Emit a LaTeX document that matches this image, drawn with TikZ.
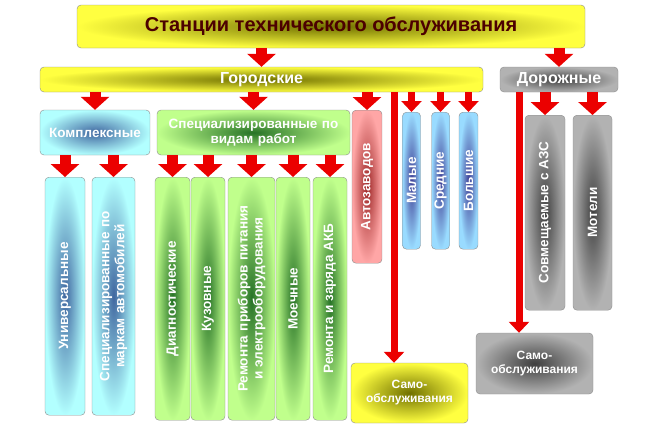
\documentclass[tikz,border=0pt]{standalone}
\usepackage{fontspec}
\setmainfont{Liberation Sans}
\usetikzlibrary{arrows.meta,shadings}
\definecolor{arrred}{RGB}{235,0,0}
\tikzset{
  box/.style={draw=black!45, rounded corners=4pt, font=\bfseries\fontsize{13.5}{15}\selectfont,
    text=white, align=center, inner sep=1pt, shading=radial},
  ybox/.style={box, inner color=olive!60!black!80, outer color=yellow!75!white},
  bbox/.style={box, inner color=cyan!40!blue!50!black!75, outer color=cyan!30},
  gbox/.style={box, inner color=green!35!black!85, outer color=green!55!yellow!45},
  rbox/.style={box, inner color=red!55!black!85, outer color=red!35},
  sbox/.style={box, inner color=blue!45!black!75, outer color=blue!35!cyan!40},
  kbox/.style={box, inner color=black!75, outer color=black!30},
  vert/.style={rotate=90},
  arr/.style={draw=arrred, line width=11pt, -{Triangle[width=28pt,length=13pt]}},
  thin arr/.style={draw=arrred, line width=7pt, -{Triangle[width=20pt,length=11pt]}}
}
\begin{document}
\begin{tikzpicture}[x=1pt,y=-1pt]
\useasboundingbox (0,0) rectangle (650,429);

% top level
\node[ybox, minimum width=508pt, minimum height=43pt, text=red!30!black,
  font=\bfseries\fontsize{20}{22}\selectfont] (sto) at (331,26.5) {Станции технического обслуживания};
\node[ybox, minimum width=443pt, minimum height=25pt, font=\bfseries\fontsize{16}{18}\selectfont] (gor) at (261.5,79.5) {Городские};
\node[kbox, minimum width=118pt, minimum height=25pt, font=\bfseries\fontsize{16}{18}\selectfont] (dor) at (559,79.5) {Дорожные};

% second level
\node[bbox, minimum width=110pt, minimum height=45pt] (kom) at (95,132.5) {Комплексные};
\node[gbox, minimum width=193pt, minimum height=45pt, text width=190pt] (spe) at (253.5,132.5) {Специализированные по\\ видам работ};
\node[rbox, vert, minimum width=153pt, minimum height=30pt, anchor=east] (avt) at (367,110) {Автозаводов};
\node[sbox, vert, minimum width=137pt, minimum height=18pt, anchor=east] (mal) at (411.5,112) {Малые};
\node[sbox, vert, minimum width=137pt, minimum height=18pt, anchor=east] (sre) at (440.5,112) {Средние};
\node[sbox, vert, minimum width=137pt, minimum height=19pt, anchor=east] (bol) at (468.5,112) {Большие};
\node[kbox, vert, minimum width=195pt, minimum height=40pt, anchor=east] (azs) at (545,115) {Совмещаемые с АЗС};
\node[kbox, vert, minimum width=195pt, minimum height=39pt, anchor=east] (mot) at (592.5,115) {Мотели};

% third level
\node[bbox, vert, minimum width=238pt, minimum height=40pt, anchor=east] (uni) at (65,177) {Универсальные};
\node[bbox, vert, minimum width=238pt, minimum height=43pt, anchor=east, text width=232pt] (mar) at (113.5,177) {Специализированные по\\ маркам автомобилей};
\node[gbox, vert, minimum width=243pt, minimum height=35pt, anchor=east] (dia) at (172.5,177) {Диагностические};
\node[gbox, vert, minimum width=243pt, minimum height=34pt, anchor=east] (kuz) at (208,177) {Кузовные};
\node[gbox, vert, minimum width=243pt, minimum height=47pt, anchor=east, text width=237pt] (pri) at (251.5,177) {Ремонта приборов питания\\ и электрооборудования};
\node[gbox, vert, minimum width=243pt, minimum height=34pt, anchor=east] (moe) at (293,177) {Моечные};
\node[gbox, vert, minimum width=243pt, minimum height=34pt, anchor=east] (akb) at (330,177) {Ремонта и заряда АКБ};

% self service
\node[ybox, minimum width=117pt, minimum height=60pt, font=\bfseries\fontsize{12}{14}\selectfont] (sam1) at (409.5,393) {Само-\\обслуживания};
\node[kbox, minimum width=117pt, minimum height=61pt, font=\bfseries\fontsize{12}{14}\selectfont] (sam2) at (534.5,363.5) {Само-\\обслуживания};
\coordinate (g2) at (394,92);
\coordinate (d2) at (519,92);

% arrows
\draw[arr] (sto.south -| gor) -- (gor.north);
\draw[arr] (sto.south -| dor) -- (dor.north);
\foreach \n in {kom,spe} \draw[arr] (gor.south -| \n) -- (\n.north);
\draw[arr] (gor.south -| avt) -- (avt.east);
\foreach \n in {mal,sre,bol} \draw[thin arr] (gor.south -| \n) -- (\n.east);
\foreach \n in {azs,mot} \draw[arr] (dor.south -| \n) -- (\n.east);
\foreach \n in {uni,mar} \draw[arr] (kom.south -| \n) -- (\n.east);
\foreach \n in {dia,kuz,pri,moe,akb} \draw[arr] (spe.south -| \n) -- (\n.east);
\draw[thin arr] (g2) -- (g2 |- sam1.north);
\draw[thin arr] (d2) -- (d2 |- sam2.north);
\end{tikzpicture}
\end{document}
